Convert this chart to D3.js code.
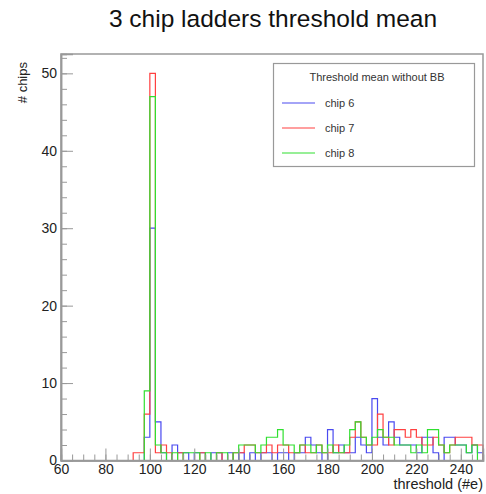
<!DOCTYPE html>
<html lang="en">
<head>
    <meta charset="UTF-8">
    <title>3 chip ladders threshold mean</title>
    <script src="https://d3js.org/d3.v7.min.js"></script>
    <style>
        body { margin: 0; background: #fff; }
        svg { font-family: "Liberation Sans", Arial, sans-serif; }
    </style>
</head>
<body>
    <svg width="486" height="494"></svg>
    <script>
        // Histogram binning: 2.5 wide bins from 60 to 250
        const binStart = 60;
        const binWidth = 2.5;

        // Counts per bin (76 bins)
        const chip6 = [
            0, 0, 0, 0, 0, 0, 0, 0, 0, 0, 0, 0, 0, 0, 0, 3,
            30, 5, 1, 0, 2, 1, 1, 0, 1, 1, 0, 1, 1, 0, 1, 0,
            1, 0, 1, 0, 1, 1, 0, 1, 1, 0, 1, 1, 3, 2, 1, 0,
            4, 1, 2, 1, 1, 3, 2, 1, 8, 3, 2, 5, 3, 2, 2, 2,
            1, 3, 3, 1, 0, 3, 3, 2, 2, 1, 2, 1
        ];
        const chip7 = [
            0, 0, 0, 0, 0, 0, 0, 0, 0, 0, 0, 0, 0, 1, 1, 6,
            50, 1, 2, 1, 0, 1, 0, 0, 0, 1, 0, 0, 1, 0, 0, 1,
            1, 2, 2, 1, 1, 2, 1, 2, 2, 1, 1, 2, 1, 1, 2, 1,
            1, 2, 1, 1, 3, 5, 3, 2, 2, 6, 3, 2, 4, 4, 3, 4,
            3, 2, 2, 3, 2, 1, 2, 3, 3, 3, 2, 2
        ];
        const chip8 = [
            0, 0, 0, 0, 0, 0, 0, 0, 0, 0, 0, 0, 0, 0, 0, 9,
            47, 2, 1, 0, 1, 0, 1, 1, 1, 0, 1, 0, 1, 1, 0, 1,
            2, 2, 2, 1, 2, 3, 3, 4, 2, 2, 1, 2, 2, 1, 2, 1,
            2, 1, 1, 2, 4, 5, 3, 2, 3, 4, 3, 3, 2, 2, 2, 1,
            2, 1, 4, 4, 2, 1, 2, 2, 2, 1, 2, 0
        ];

        const seriesNames = ["chip 6", "chip 7", "chip 8"];
        const seriesColors = ["#4a4af0", "#ff4040", "#30e030"];
        const legendTitle = "Threshold mean without BB";

        const xMajor = [60, 80, 100, 120, 140, 160, 180, 200, 220, 240];
        const yMajor = [0, 10, 20, 30, 40, 50];

        // Frame
        const frame = { left: 61, top: 54, right: 483, bottom: 460.5 };

        const svg = d3.select("svg");

        const x = d3.scaleLinear().domain([60, 250]).range([frame.left, frame.right]);
        const y = d3.scaleLinear().domain([0, 52.5]).range([frame.bottom, frame.top]);

        // Title
        svg.append("text")
            .attr("x", 273)
            .attr("y", 27)
            .attr("text-anchor", "middle")
            .attr("font-size", 24.5)
            .attr("fill", "#111")
            .text("3 chip ladders threshold mean");

        // Histograms (steps)
        const line = d3.line()
            .x(d => x(d[0]))
            .y(d => y(d[1]))
            .curve(d3.curveStepAfter);

        [chip6, chip7, chip8].forEach((counts, k) => {
            const pts = [[binStart, 0]];
            counts.forEach((c, i) => pts.push([binStart + i * binWidth, c]));
            const last = counts[counts.length - 1];
            pts.push([binStart + counts.length * binWidth, last]);
            pts.push([binStart + counts.length * binWidth, 0]);
            svg.append("path")
                .attr("d", line(pts))
                .attr("fill", "none")
                .attr("stroke", seriesColors[k])
                .attr("stroke-width", 1.2);
        });

        // Frame box
        svg.append("rect")
            .attr("x", frame.left)
            .attr("y", frame.top)
            .attr("width", frame.right - frame.left)
            .attr("height", frame.bottom - frame.top)
            .attr("fill", "none")
            .attr("stroke", "#999")
            .attr("stroke-width", 1.5);

        // X axis: major + minor ticks pointing inside
        svg.append("g")
            .attr("transform", `translate(0,${frame.bottom})`)
            .call(d3.axisBottom(x).tickValues(xMajor).tickSize(-12).tickPadding(4).tickFormat(d3.format("d")));
        svg.append("g")
            .attr("transform", `translate(0,${frame.bottom})`)
            .call(d3.axisBottom(x).tickValues(d3.range(60, 251, 5)).tickSize(-6).tickFormat(""));

        // Y axis
        svg.append("g")
            .attr("transform", `translate(${frame.left},0)`)
            .call(d3.axisLeft(y).tickValues(yMajor).tickSize(-12).tickPadding(4).tickFormat(d3.format("d")));
        svg.append("g")
            .attr("transform", `translate(${frame.left},0)`)
            .call(d3.axisLeft(y).tickValues(d3.range(0, 53, 2)).tickSize(-6).tickFormat(""));

        svg.selectAll(".domain").attr("stroke", "#999").attr("stroke-width", 1.5);
        svg.selectAll(".tick line").attr("stroke", "#999");
        svg.selectAll(".tick text").attr("font-size", 14).attr("fill", "#222")
            .attr("font-family", "'Liberation Sans', Arial, sans-serif");

        // Axis titles
        svg.append("text")
            .attr("x", frame.right)
            .attr("y", 489)
            .attr("text-anchor", "end")
            .attr("font-size", 14.5)
            .attr("fill", "#222")
            .text("threshold (#e)");

        svg.append("text")
            .attr("transform", "translate(27,62) rotate(-90)")
            .attr("text-anchor", "end")
            .attr("font-size", 13)
            .attr("fill", "#222")
            .text("# chips");

        // Legend
        const legend = svg.append("g");
        legend.append("rect")
            .attr("x", 273.5)
            .attr("y", 63.5)
            .attr("width", 201)
            .attr("height", 103)
            .attr("fill", "#fff")
            .attr("stroke", "#999")
            .attr("stroke-width", 1.2);
        legend.append("text")
            .attr("x", 377)
            .attr("y", 81)
            .attr("text-anchor", "middle")
            .attr("font-size", 11)
            .attr("fill", "#333")
            .text(legendTitle);
        seriesNames.forEach((name, k) => {
            const ly = 103 + k * 25;
            legend.append("line")
                .attr("x1", 282).attr("x2", 315)
                .attr("y1", ly).attr("y2", ly)
                .attr("stroke", seriesColors[k])
                .attr("stroke-width", 1.2);
            legend.append("text")
                .attr("x", 325)
                .attr("y", ly + 4)
                .attr("font-size", 11)
                .attr("fill", "#333")
                .text(name);
        });
    </script>
</body>
</html>
